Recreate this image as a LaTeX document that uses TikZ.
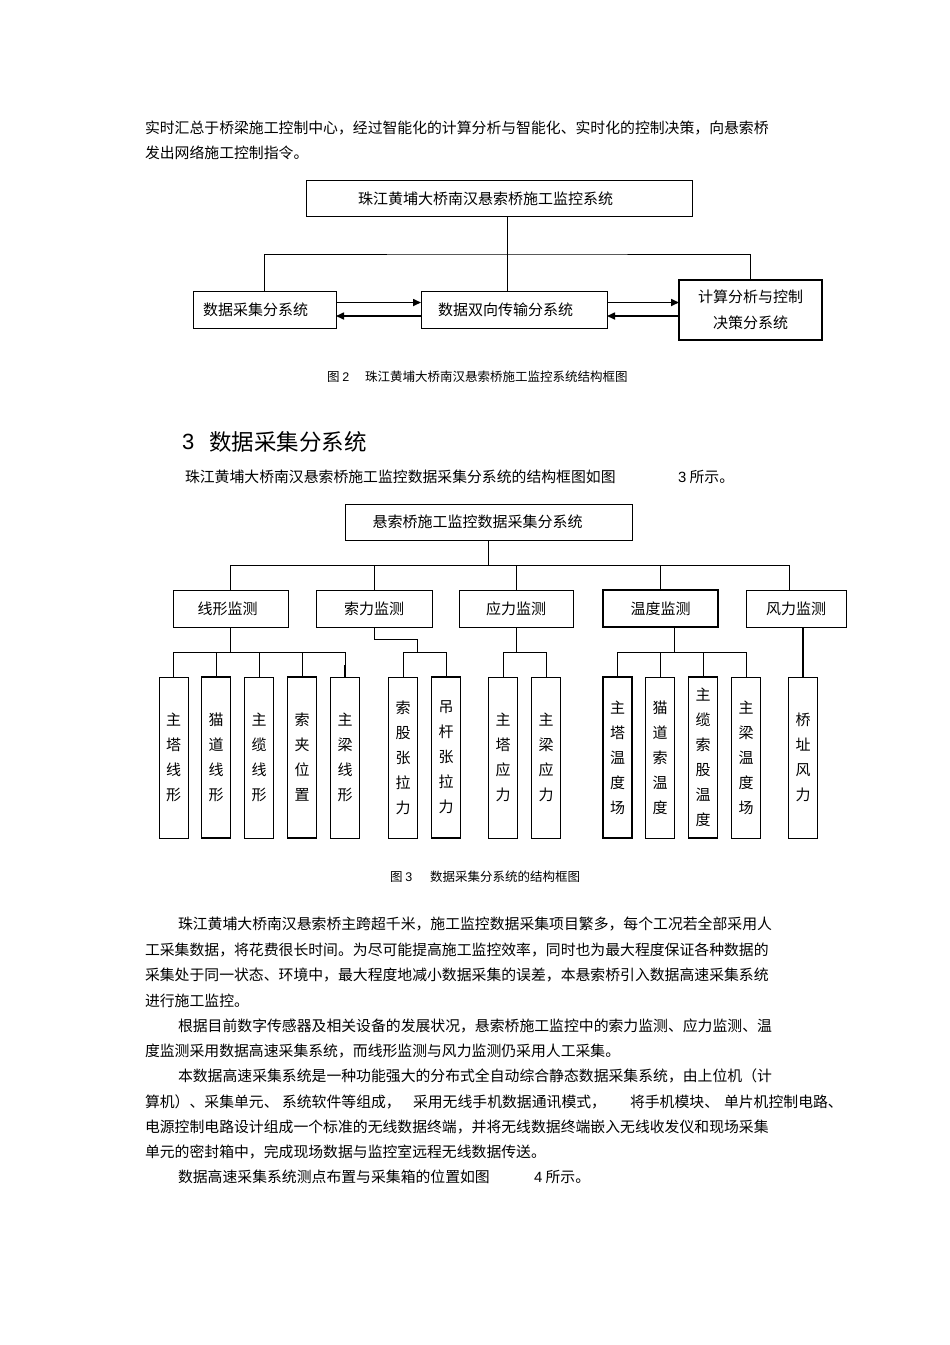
\documentclass[tikz,border=0pt]{standalone}
\usepackage{fontspec}
\setmainfont{Noto Sans CJK SC}
\newfontfamily\lat{Liberation Sans}
\usetikzlibrary{arrows.meta}
\newcommand\fsz[2]{\fontsize{#1}{#2}\selectfont}
\tikzset{
  txt/.style={anchor=west,inner sep=0pt,outer sep=0pt,font=\fsz{14.85}{18}},
  captxt/.style={anchor=west,inner sep=0pt,outer sep=0pt,font=\fsz{12.5}{15}},
  box/.style={draw,line width=0.9pt,inner sep=0pt,outer sep=0pt,align=center,font=\fsz{15}{26}},
  boxthick/.style={box,line width=1.7pt},
  vbox/.style={box,minimum width=29pt,minimum height=161pt,font=\fsz{15}{25}},
  vboxthick/.style={vbox,line width=1.7pt},
  conn/.style={line width=0.9pt},
  connthick/.style={line width=1.6pt},
  arr/.style={line width=1.6pt,-{Triangle[length=8pt,width=7pt]}}
}
\begin{document}
\begin{tikzpicture}[x=1pt,y=-1pt]
\useasboundingbox[fill=white] (0,0) rectangle (950,1345);

% paragraph 1
\node[txt] (p1) at (145,128) {实时汇总于桥梁施工控制中心，经过智能化的计算分析与智能化、实时化的控制决策，向悬索桥};
\node[txt] (p2) at (145,153) {发出网络施工控制指令。};

% figure 2
\node[box,minimum width=386pt,minimum height=36pt] (t2) at (499.5,198.5) {珠江黄埔大桥南汉悬索桥施工监控系统\hspace*{28pt}};
\node[box,minimum width=143pt,minimum height=37pt] (lb) at (264.5,309.5) {数据采集分系统\hspace*{18pt}};
\node[box,minimum width=186pt,minimum height=37pt] (mb) at (514,309.5) {数据双向传输分系统\hspace*{17pt}};
\node[boxthick,minimum width=143pt,minimum height=60pt] (rb) at (750.5,310) {计算分析与控制\\决策分系统};
\coordinate (j2) at (507,254);
\draw[conn] (t2.south -| j2) -- (mb.north -| j2);
\draw[conn] (lb.north) |- (j2) -| (rb.north);
\draw[arr] ([yshift=7pt]lb.east) -- ([yshift=7pt]mb.west);
\draw[arr] ([yshift=-6.5pt]mb.west) -- ([yshift=-6.5pt]lb.east);
\draw[arr] ([yshift=7pt]mb.east) -- ([yshift=7pt]mb.east -| rb.west);
\draw[arr] ([yshift=-6.5pt]mb.east -| rb.west) -- ([yshift=-6.5pt]mb.east);
\node[captxt] (c2a) at (327,377) {图 {\lat 2}};
\node[captxt] (c2b) at (365,377) {珠江黄埔大桥南汉悬索桥施工监控系统结构框图};

% section heading
\node[anchor=west,inner sep=0pt,font=\fsz{22}{26}\lat] (h3n) at (182,442) {3};
\node[anchor=west,inner sep=0pt,font=\fsz{22.5}{26}] (h3t) at (209,442) {数据采集分系统};
\node[txt] (s1) at (185,477) {珠江黄埔大桥南汉悬索桥施工监控数据采集分系统的结构框图如图};
\node[txt] (s2) at (678,477) {{\lat 3} 所示。};

% figure 3
\node[box,minimum width=287pt,minimum height=36pt] (t3) at (488.5,522) {悬索桥施工监控数据采集分系统\hspace*{22pt}};
\node[box,minimum width=115pt,minimum height=37pt] (a) at (230.5,608.5) {线形监测\hspace*{6pt}};
\node[box,minimum width=116pt,minimum height=37pt] (b) at (374,608.5) {索力监测};
\node[box,minimum width=114pt,minimum height=37pt] (c) at (516,608.5) {应力监测};
\node[boxthick,minimum width=115pt,minimum height=37pt] (d) at (660.5,608.5) {温度监测};
\node[box,minimum width=100pt,minimum height=37pt] (e) at (796,608.5) {风力监测};
\coordinate (hl) at (230,565);
\coordinate (hr) at (789,565);
\draw[conn] (t3.south) -- (t3.south |- hl);
\draw[conn] (a.north) |- (hr) -- (hr |- e.north);
\draw[conn] (b.north) -- (b.north |- hl);
\draw[conn] (c.north) -- (c.north |- hl);
\draw[conn] (d.north) -- (d.north |- hl);

% level 3
\node[vbox] (a1) at (173.5,757.5) {主\\塔\\线\\形};
\node[vboxthick] (a2) at (216,757.5) {猫\\道\\线\\形};
\node[vbox] (a3) at (259,757.5) {主\\缆\\线\\形};
\node[vboxthick] (a4) at (302,757.5) {索\\夹\\位\\置};
\node[vbox] (a5) at (345,757.5) {主\\梁\\线\\形};
\node[vbox] (b1) at (403,757.5) {索\\股\\张\\拉\\力};
\node[vboxthick] (b2) at (446,757.5) {吊\\杆\\张\\拉\\力};
\node[vbox] (c1) at (503,757.5) {主\\塔\\应\\力};
\node[vbox] (c2) at (546,757.5) {主\\梁\\应\\力};
\node[vboxthick] (d1) at (617.5,757.5) {主\\塔\\温\\度\\场};
\node[vbox] (d2) at (660,757.5) {猫\\道\\索\\温\\度};
\node[vboxthick] (d3) at (703,757.5) {主\\缆\\索\\股\\温\\度};
\node[vbox] (d4) at (746,757.5) {主\\梁\\温\\度\\场};
\node[vbox] (e1) at (803,757.5) {桥\\址\\风\\力};

\coordinate (la) at (230,652);
\draw[connthick] (a.south) -- (a.south |- la);
\draw[conn] (a1.north) |- (la) -| (a5.north);
\draw[connthick] (a1.north) -- ++(0,-12);
\draw[connthick] (a5.north) -- ++(0,-12);
\draw[conn] (a2.north) -- (a2.north |- la);
\draw[conn] (a3.north) -- (a3.north |- la);
\draw[conn] (a4.north) -- (a4.north |- la);

\coordinate (lb1) at (374,639);
\coordinate (lb2) at (417,652);
\draw[conn] (b.south) -- (lb1) -| (lb2);
\draw[conn] (b1.north) |- (lb2) -| (b2.north);

\coordinate (lc) at (516,652);
\draw[conn] (c.south) -- (lc);
\draw[conn] (c1.north) |- (lc) -| (c2.north);

\coordinate (ld) at (674,652);
\draw[conn] (d.south -| ld) -- (ld);
\draw[conn] (d1.north) |- (ld) -| (d4.north);
\draw[conn] (d2.north) -- (d2.north |- ld);
\draw[conn] (d3.north) -- (d3.north |- ld);

\draw[connthick] (e.south -| e1.north) -- (e1.north);

\node[captxt] (c3a) at (390,877) {图 {\lat 3}};
\node[captxt] (c3b) at (430,877) {数据采集分系统的结构框图};

% paragraphs
\node[txt] (q1) at (178,924) {珠江黄埔大桥南汉悬索桥主跨超千米，施工监控数据采集项目繁多，每个工况若全部采用人};
\node[txt] (q2) at (145,950) {工采集数据，将花费很长时间。为尽可能提高施工监控效率，同时也为最大程度保证各种数据的};
\node[txt] (q3) at (145,975) {采集处于同一状态、环境中，最大程度地减小数据采集的误差，本悬索桥引入数据高速采集系统};
\node[txt] (q4) at (145,1001) {进行施工监控。};
\node[txt] (q5) at (178,1026) {根据目前数字传感器及相关设备的发展状况，悬索桥施工监控中的索力监测、应力监测、温};
\node[txt] (q6) at (145,1051) {度监测采用数据高速采集系统，而线形监测与风力监测仍采用人工采集。};
\node[txt] (q7) at (178,1076) {本数据高速采集系统是一种功能强大的分布式全自动综合静态数据采集系统，由上位机（计};
\node[txt] (q8a) at (145,1102) {算机）、采集单元、};
\node[txt] (q8b) at (282,1102) {系统软件等组成，};
\node[txt] (q8c) at (413,1102) {采用无线手机数据通讯模式，};
\node[txt] (q8d) at (630,1102) {将手机模块、};
\node[txt] (q8e) at (724,1102) {单片机控制电路、};
\node[txt] (q9) at (145,1127) {电源控制电路设计组成一个标准的无线数据终端，并将无线数据终端嵌入无线收发仪和现场采集};
\node[txt] (q10) at (145,1152) {单元的密封箱中，完成现场数据与监控室远程无线数据传送。};
\node[txt] (q11a) at (178,1177) {数据高速采集系统测点布置与采集箱的位置如图};
\node[txt] (q11b) at (534,1177) {{\lat 4} 所示。};
\end{tikzpicture}
\end{document}
